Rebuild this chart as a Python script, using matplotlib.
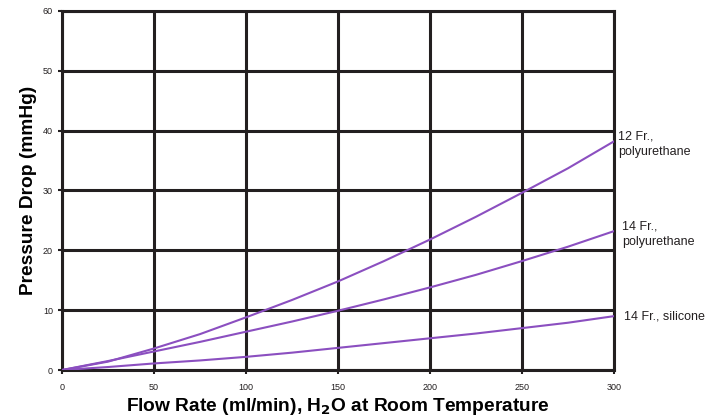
import matplotlib.pyplot as plt
import numpy as np

plt.rcParams['font.family'] = ['Liberation Sans', 'DejaVu Sans']

# Caudal (ml/min) y caída de presión (mmHg)
flow = [0, 25, 50, 75, 100, 125, 150, 175, 200, 225, 250, 275, 300]
pu_12fr = [0, 1.4, 3.6, 6.0, 8.8, 11.7, 14.8, 18.2, 21.8, 25.6, 29.6, 33.7, 38.2]
pu_14fr = [0, 1.5, 3.1, 4.7, 6.4, 8.1, 9.9, 11.8, 13.8, 15.9, 18.2, 20.6, 23.2]
sil_14fr = [0, 0.5, 1.1, 1.6, 2.2, 2.9, 3.7, 4.5, 5.3, 6.1, 7.0, 7.9, 9.0]
labels = ['12 Fr.,\npolyurethane', '14 Fr.,\npolyurethane', '14 Fr., silicone']

grid_col = '#231f20'
line_col = '#8b4fc0'

fig = plt.figure(figsize=(7.18, 4.2), dpi=100)
ax = fig.add_axes([0.0864, 0.119, 0.7686, 0.855])

for y in [pu_12fr, pu_14fr, sil_14fr]:
    ax.plot(flow, y, color=line_col, lw=1.5, zorder=3)

# etiquetas al final de cada curva
offsets = [(3, 8), (6, 8), (7, 0)]
for y, lab, off in zip([pu_12fr, pu_14fr, sil_14fr], labels, offsets):
    ax.annotate(lab, xy=(300, y[-1]), xytext=off, textcoords='offset points',
                fontsize=9, va='center' if '\n' not in lab else 'top', ha='left',
                color='#231f20', annotation_clip=False, linespacing=1.4)

ax.set_xlim(0, 300)
ax.set_ylim(0, 60)
ax.set_xticks(np.arange(0, 301, 50))
ax.set_yticks(np.arange(0, 61, 10))
ax.grid(True, color=grid_col, lw=2.2)
for s in ax.spines.values():
    s.set_color(grid_col)
    s.set_linewidth(2.2)
ax.tick_params(axis='both', labelsize=6.5, colors=grid_col, length=3, width=1.5)
ax.tick_params(axis='x', pad=6)

ax.set_xlabel('Flow Rate (ml/min), H$_\\mathbf{2}$O at Room Temperature',
              fontsize=13.8, fontweight='bold', labelpad=3)
ax.set_ylabel('Pressure Drop (mmHg)', fontsize=13.8, fontweight='bold', labelpad=4)

fig.savefig('out.png', dpi=100)
